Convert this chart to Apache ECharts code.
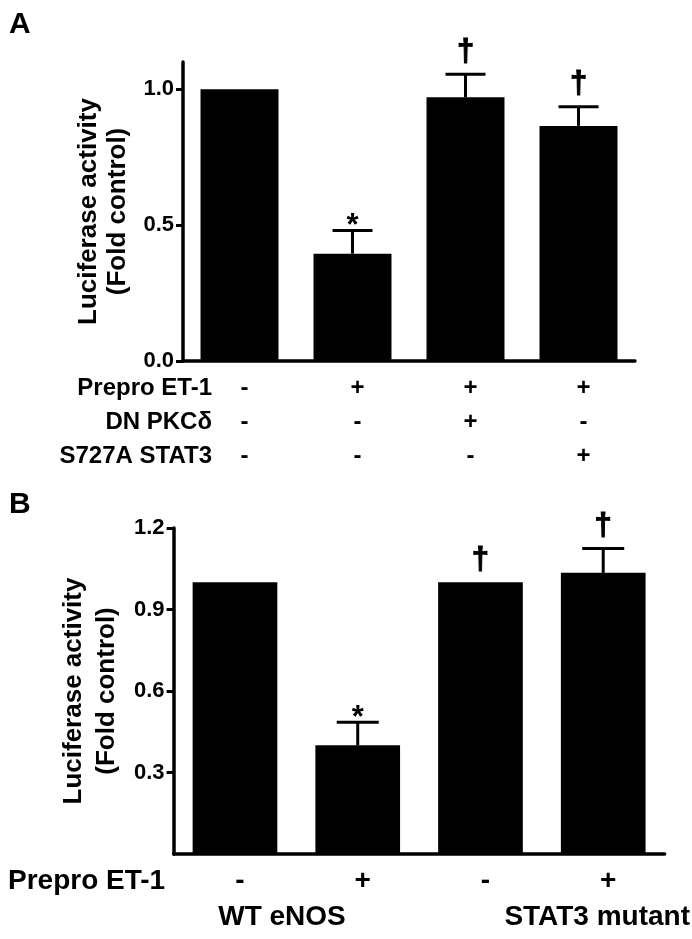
<!DOCTYPE html>
<html><head><meta charset="utf-8">
<script src="https://cdn.jsdelivr.net/npm/echarts@6/dist/echarts.min.js"></script>
<style>html,body{margin:0;padding:0;background:#fff}#c{width:692px;height:939px}</style>
</head><body><div id="c"></div>
<script>
// ---- Panel A data ----
const categoriesA = ['Control', 'ET-1', 'ET-1 + DN PKCδ', 'ET-1 + S727A STAT3'];
const rowNamesA = ['Prepro ET-1', 'DN PKCδ', 'S727A STAT3'];
const preproA = ['-', '+', '+', '+'];
const dnPkcA = ['-', '-', '+', '-'];
const s727aA = ['-', '-', '-', '+'];
const valuesA = [1.0, 0.395, 0.97, 0.865];
const errorsA = [0, 0.085, 0.085, 0.07];
const marksA = ['', '*', '†', '†'];
const yTicksA = [0, 0.5, 1.0];

// ---- Panel B data ----
const categoriesB = ['WT eNOS -', 'WT eNOS +', 'STAT3 mutant -', 'STAT3 mutant +'];
const rowNameB = 'Prepro ET-1';
const preproB = ['-', '+', '-', '+'];
const groupsB = ['WT eNOS', 'STAT3 mutant'];
const valuesB = [1.0, 0.40, 1.0, 1.035];
const errorsB = [0, 0.085, 0, 0.09];
const marksB = ['', '*', '†', '†'];
const yTicksB = [0.3, 0.6, 0.9, 1.2];

const FONT = '"Liberation Sans", Arial, sans-serif';
const chart = echarts.init(document.getElementById('c'), null, {renderer: 'canvas'});

function errRender(capHalf) {
  return function (params, api) {
    const i = api.value(0), v = api.value(1), e = api.value(2);
    if (!(e > 0)) return null;
    const b = api.coord([i, v]);
    const t = api.coord([i, v + e]);
    const st = {stroke: '#000', lineWidth: 3};
    return {type: 'group', children: [
      {type: 'line', shape: {x1: b[0], y1: b[1], x2: t[0], y2: t[1]}, style: st},
      {type: 'line', shape: {x1: t[0] - capHalf, y1: t[1], x2: t[0] + capHalf, y2: t[1]}, style: st}
    ]};
  };
}
function markRender(marks) {
  return function (params, api) {
    const i = api.value(0), top = api.value(1);
    const m = marks[params.dataIndex];
    if (!m) return null;
    const p = api.coord([i, top]);
    const isStar = m === '*';
    return {type: 'text', x: p[0], y: p[1] + (isStar ? -4 : -22), style: {
      text: m, fill: '#000', stroke: isStar ? null : '#000', lineWidth: isStar ? 0 : 1,
      font: isStar ? ('bold 31px ' + FONT) : ('bold 31px ' + FONT),
      align: 'center', verticalAlign: 'middle'}};
  };
}

const axisLineStyle = {color: '#000', width: 3.5};
const labelFont = {color: '#000', fontWeight: 'bold', fontFamily: FONT};

chart.setOption({
  animation: false,
  backgroundColor: '#fff',
  grid: [
    {left: 183, top: 62, width: 452, height: 299},
    {left: 173.6, top: 528, width: 491, height: 326}
  ],
  xAxis: [
    {gridIndex: 0, type: 'category', data: categoriesA,
      axisLine: {lineStyle: axisLineStyle},
      axisTick: {alignWithLabel: true, length: 9, lineStyle: {color: '#000', width: 3}},
      axisLabel: Object.assign({}, labelFont, {fontSize: 24, lineHeight: 34, margin: 10, padding: [0, 0, 0, 10],
        formatter: (v, idx) => preproA[idx] + '\n' + dnPkcA[idx] + '\n' + s727aA[idx]})},
    {gridIndex: 1, type: 'category', data: categoriesB,
      axisLine: {lineStyle: axisLineStyle},
      axisTick: {alignWithLabel: true, length: 6, lineStyle: {color: '#000', width: 3}},
      axisLabel: Object.assign({}, labelFont, {fontSize: 28, margin: 13, padding: [0, 0, 0, 10],
        formatter: (v, idx) => preproB[idx]})}
  ],
  yAxis: [
    {gridIndex: 0, type: 'value', min: 0, max: 1.1,
      splitLine: {show: false},
      axisLine: {show: true, lineStyle: axisLineStyle},
      axisTick: {show: true, length: 7, customValues: yTicksA, lineStyle: {color: '#000', width: 3}},
      axisLabel: Object.assign({}, labelFont, {fontSize: 22, margin: 9, customValues: yTicksA,
        formatter: v => v.toFixed(1)}),
      name: 'Luciferase activity\n(Fold control)', nameLocation: 'middle', nameRotate: 90, nameGap: 43,
      nameTextStyle: Object.assign({}, labelFont, {fontSize: 26, lineHeight: 29})},
    {gridIndex: 1, type: 'value', min: 0, max: 1.2,
      splitLine: {show: false},
      axisLine: {show: true, lineStyle: axisLineStyle},
      axisTick: {show: true, length: 7, customValues: yTicksB, lineStyle: {color: '#000', width: 3}},
      axisLabel: Object.assign({}, labelFont, {fontSize: 22, margin: 9, customValues: yTicksB,
        formatter: v => v.toFixed(1)}),
      name: 'Luciferase activity\n(Fold control)', nameLocation: 'middle', nameRotate: 90, nameGap: 46,
      nameTextStyle: Object.assign({}, labelFont, {fontSize: 26, lineHeight: 33})}
  ],
  series: [
    {type: 'bar', xAxisIndex: 0, yAxisIndex: 0, data: valuesA, barWidth: '69%', itemStyle: {color: '#000'}},
    {type: 'custom', xAxisIndex: 0, yAxisIndex: 0, renderItem: errRender(20), z: 5,
      data: valuesA.map((v, i) => [i, v, errorsA[i]])},
    {type: 'custom', xAxisIndex: 0, yAxisIndex: 0, renderItem: markRender(marksA), z: 6,
      data: valuesA.map((v, i) => [i, v + errorsA[i]])},
    {type: 'bar', xAxisIndex: 1, yAxisIndex: 1, data: valuesB, barWidth: '69%', itemStyle: {color: '#000'}},
    {type: 'custom', xAxisIndex: 1, yAxisIndex: 1, renderItem: errRender(21), z: 5,
      data: valuesB.map((v, i) => [i, v, errorsB[i]])},
    {type: 'custom', xAxisIndex: 1, yAxisIndex: 1, renderItem: markRender(marksB), z: 6,
      data: valuesB.map((v, i) => [i, v + errorsB[i]])}
  ],
  graphic: [
    {type: 'text', left: 9, top: 10, style: {text: 'A', font: 'bold 30px ' + FONT, fill: '#000'}},
    {type: 'text', left: 9, top: 490, style: {text: 'B', font: 'bold 30px ' + FONT, fill: '#000'}},
    ...rowNamesA.map((t, k) => ({type: 'text', x: 212, y: 388 + k * 34,
      style: {text: t, font: 'bold 24px ' + FONT, fill: '#000', align: 'right', verticalAlign: 'middle'}})),
    {type: 'text', x: 8, y: 881, style: {text: rowNameB, font: 'bold 28px ' + FONT, fill: '#000', align: 'left', verticalAlign: 'middle'}},
    {type: 'text', x: 282, y: 917, style: {text: groupsB[0], font: 'bold 28px ' + FONT, fill: '#000', align: 'center', verticalAlign: 'middle'}},
    {type: 'text', x: 690, y: 917, style: {text: groupsB[1], font: 'bold 28px ' + FONT, fill: '#000', align: 'right', verticalAlign: 'middle'}}
  ]
});
</script>
</body></html>
